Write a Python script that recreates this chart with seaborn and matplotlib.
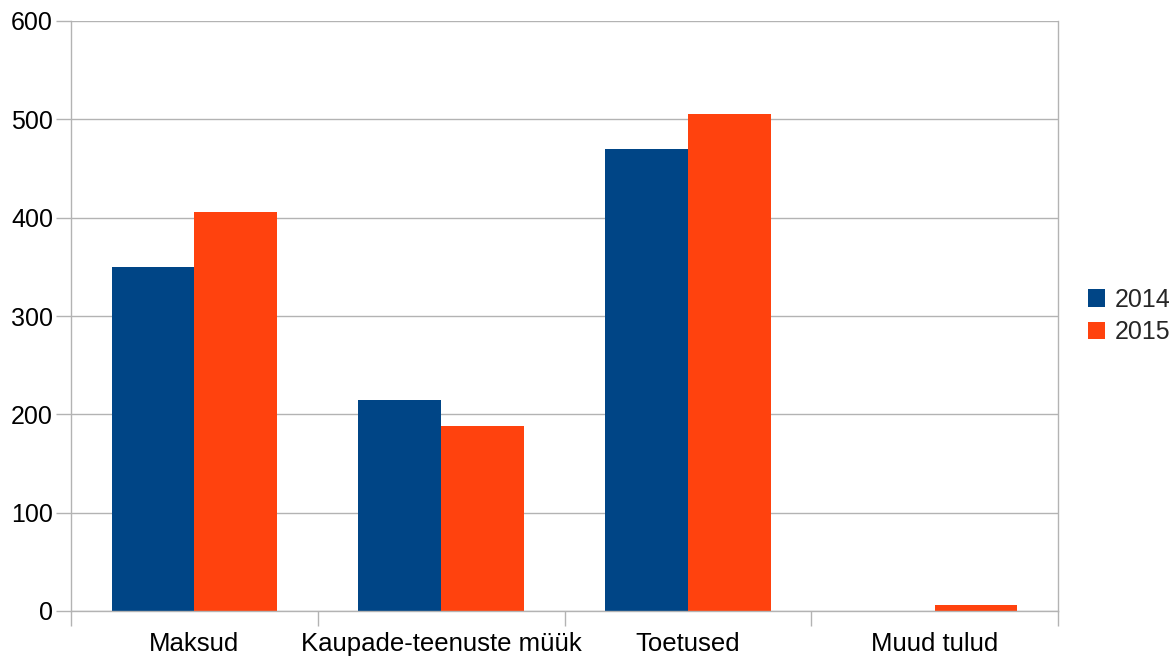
import pandas as pd
import numpy as np
import matplotlib
matplotlib.use("Agg")
import matplotlib.pyplot as plt
import seaborn as sns

categories = ["Maksud", "Kaupade-teenuste müük", "Toetused", "Muud tulud"]
years = ["2014", "2015"]
values_2014 = [350, 215, 470, 0]
values_2015 = [406, 188, 505, 6]
colors = ["#004586", "#ff420e"]

df = pd.DataFrame({
    "category": categories * 2,
    "year": [years[0]] * 4 + [years[1]] * 4,
    "value": values_2014 + values_2015,
})

sns.set_theme(style="white")
plt.rcParams["font.family"] = ["Liberation Sans", "DejaVu Sans"]

fig = plt.figure(figsize=(11.73, 6.57), dpi=100)
ax = fig.add_axes([71 / 1173, 1 - 611 / 657, (1058 - 71) / 1173, (611 - 21) / 657])

sns.barplot(data=df, x="category", y="value", hue="year", palette=colors,
            width=0.67, saturation=1, linewidth=0, ax=ax, legend=True)

grey = "#b3b3b3"
ax.set_xlim(-0.5, 3.5)
ax.set_ylim(0, 600)
ax.set_yticks(np.arange(0, 601, 100))
ax.yaxis.grid(True, color=grey, linewidth=1)
ax.set_axisbelow(True)
ax.set_xlabel("")
ax.set_ylabel("")

ax.set_xticks(np.arange(len(categories)))
ax.set_xticklabels(categories)
ax.set_xticks(np.arange(-0.5, 3.6, 1), minor=True)
ax.tick_params(axis="x", which="major", length=0, pad=15, labelsize=18.5, labelcolor="black")
ax.tick_params(axis="x", which="minor", length=11, width=1, color=grey, direction="out", bottom=True)
ax.tick_params(axis="y", length=11, width=1, color=grey, direction="out", left=True, pad=2,
               labelsize=18, labelcolor="black")

for side in ["left", "right", "bottom"]:
    ax.spines[side].set_visible(True)
    ax.spines[side].set_color(grey)
    ax.spines[side].set_linewidth(1)
ax.spines["top"].set_visible(False)

leg = ax.legend(loc="center left", bbox_to_anchor=(1.02, 0.5), frameon=False,
                fontsize=18, handlelength=0.7, handleheight=0.7, handletextpad=0.4,
                labelspacing=0.35, borderaxespad=0)

fig.savefig("out.png", dpi=100)
